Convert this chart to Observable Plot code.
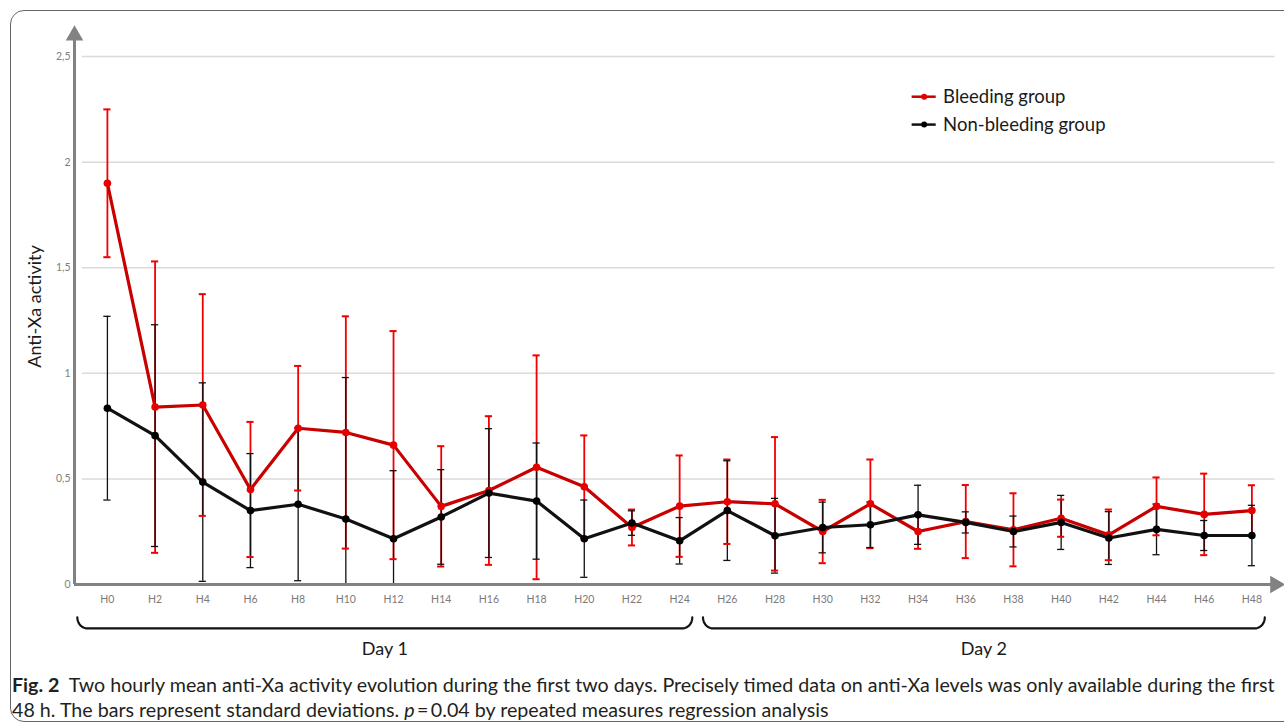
<!DOCTYPE html>
<html>
<head>
<meta charset="utf-8">
<script src="https://cdn.jsdelivr.net/npm/d3@7"></script>
<script src="https://cdn.jsdelivr.net/npm/@observablehq/plot@0.6"></script>
<style>
  html, body { margin: 0; padding: 0; background: #fff; overflow: hidden; width: 1284px; height: 726px; }
  #frame { position: absolute; left: 10px; top: 10px; width: 1300px; height: 712px; border: 1.5px solid #666; border-radius: 14px; box-sizing: border-box; }
  #chart { position: absolute; left: 0; top: 0; }
  .cap { position: absolute; left: 12px; white-space: nowrap; font-family: Lato, "Open Sans", sans-serif; font-size: 17px; line-height: 1; color: #231f20; }
  #cap1 { top: 675px; }
  #cap2 { top: 700px; }
  .cap b { font-weight: 700; }
</style>
</head>
<body>
<div id="frame"></div>
<div id="chart"></div>
<div class="cap" id="cap1"></div>
<div class="cap" id="cap2"></div>
<script>
// ---- data ----
const hours = [0,2,4,6,8,10,12,14,16,18,20,22,24,26,28,30,32,34,36,38,40,42,44,46,48];
const hourLabels = ["H0","H2","H4","H6","H8","H10","H12","H14","H16","H18","H20","H22","H24","H26","H28","H30","H32","H34","H36","H38","H40","H42","H44","H46","H48"];
const bleedingMean = [1.90,0.84,0.85,0.45,0.74,0.72,0.66,0.37,0.445,0.555,0.463,0.27,0.371,0.392,0.382,0.251,0.382,0.251,0.298,0.259,0.314,0.235,0.37,0.332,0.35];
const bleedingSD = [0.35,0.69,0.525,0.32,0.295,0.55,0.54,0.285,0.352,0.53,0.243,0.085,0.24,0.2,0.316,0.15,0.21,0.082,0.173,0.173,0.088,0.12,0.137,0.193,0.12];
const nonBleedingMean = [0.835,0.705,0.485,0.35,0.38,0.31,0.217,0.32,0.433,0.395,0.217,0.291,0.207,0.35,0.231,0.27,0.283,0.33,0.294,0.251,0.294,0.22,0.261,0.232,0.232];
const nonBleedingSD = [0.435,0.525,0.47,0.27,0.362,0.67,0.322,0.224,0.305,0.275,0.183,0.058,0.11,0.236,0.177,0.12,0.108,0.14,0.05,0.073,0.128,0.125,0.12,0.071,0.143];
const yTicks = [0, 0.5, 1, 1.5, 2, 2.5];
const yTickLabels = ["0", "0,5", "1", "1,5", "2", "2,5"];
const seriesNames = ["Bleeding group", "Non-bleeding group"];
const dayLabels = ["Day 1", "Day 2"];
const dayStart = [-1.26, 24.98];
const dayEnd = [24.53, 48.54];
const yTitle = "Anti-Xa activity";
const captionBold = "Fig. 2";
const captionLine1 = "Two hourly mean anti-Xa activity evolution during the first two days. Precisely timed data on anti-Xa levels was only available during the first";
const captionLine2a = "48 h. The bars represent standard deviations. ";
const captionLine2b = "p";
const captionLine2c = "\u2009=\u20090.04 by repeated measures regression analysis";

// ---- build table ----
const lineColors = ["#c80000", "#111111"];
const barColors = ["#f20000", "#111111"];
const dotColors = ["#e80000", "#000000"];
const rows = [];
hours.forEach((h, i) => {
  rows.push({hour: h, mean: bleedingMean[i], sd: bleedingSD[i], g: 0});
  rows.push({hour: h, mean: nonBleedingMean[i], sd: nonBleedingSD[i], g: 1});
});
const lo = d => Math.max(0, d.mean - d.sd);
const hi = d => d.mean + d.sd;

// braces
const braceTop = -0.156, braceBottom = -0.208, rx = 0.42;
const brace = [];
dayLabels.forEach((lab, k) => {
  const a = dayStart[k], b = dayEnd[k];
  for (let t = 0; t <= 12; t++) {
    const th = t / 12 * Math.PI / 2;
    brace.push({k, x: a + rx * (1 - Math.cos(th)), y: braceTop - (braceTop - braceBottom) * Math.sin(th)});
  }
  for (let t = 12; t >= 0; t--) {
    const th = t / 12 * Math.PI / 2;
    brace.push({k, x: b - rx * (1 - Math.cos(th)), y: braceTop - (braceTop - braceBottom) * Math.sin(th)});
  }
});
const days = dayLabels.map((lab, k) => ({lab, x: (dayStart[k] + dayEnd[k]) / 2}));

const legend = seriesNames.map((name, g) => ({name, g, y: [2.31, 2.178][g]}));

const font = "Lato, 'Open Sans', sans-serif";
const plot = Plot.plot({
  width: 1284,
  height: 660,
  marginLeft: 74,
  marginRight: 4,
  marginTop: 28,
  marginBottom: 76,
  style: {fontFamily: font, background: "transparent", overflow: "visible"},
  x: {type: "linear", domain: [-1.38, 49.2]},
  y: {type: "linear", domain: [0, 2.633]},
  marks: [
    // grid
    Plot.ruleY(yTicks.filter(d => d > 0), {x1: -1.05, x2: 48.97, stroke: "#dadada", strokeWidth: 1.5}),
    // axes
    Plot.axisY({ticks: yTicks, tickFormat: d => yTickLabels[yTicks.indexOf(d)], tickSize: 0, tickPadding: 4, fontSize: 10.5, fill: "#808080", label: null}),
    Plot.axisX({ticks: hours, tickFormat: d => hourLabels[hours.indexOf(d)], tickSize: 0, tickPadding: 11, fontSize: 10.5, fill: "#7a7a7a", label: null}),
    Plot.text([yTitle], {frameAnchor: "left", textAnchor: "middle", dx: -39, rotate: -90, fontSize: 18, fill: "#1a1a1a"}),
    // error bars
    ...[0, 1].map(g => Plot.ruleX(rows.filter(d => d.g === g), {x: "hour", y1: lo, y2: hi, stroke: barColors[g], strokeWidth: g ? 1.3 : 1.8})),
    ...[0, 1].map(g => Plot.ruleY(rows.filter(d => d.g === g && d.mean - d.sd > 0), {y: lo, x1: d => d.hour - 0.15, x2: d => d.hour + 0.15, stroke: barColors[g], strokeWidth: g ? 1.3 : 2})),
    ...[0, 1].map(g => Plot.ruleY(rows.filter(d => d.g === g), {y: hi, x1: d => d.hour - 0.15, x2: d => d.hour + 0.15, stroke: barColors[g], strokeWidth: g ? 1.3 : 2})),
    // lines
    ...[0, 1].map(g => Plot.line(rows.filter(d => d.g === g), {x: "hour", y: "mean", stroke: lineColors[g], strokeWidth: 3.2})),
    ...[0, 1].map(g => Plot.dot(rows.filter(d => d.g === g), {x: "hour", y: "mean", fill: dotColors[g], r: 3.8})),
    // axis lines with arrows
    Plot.ruleY([0], {x1: -1.38, x2: 48.95, stroke: "#828282", strokeWidth: 3}),
    Plot.ruleX([-1.38], {y1: 0, y2: 2.58, stroke: "#828282", strokeWidth: 3}),
    Plot.dot([0], {x: 48.98, y: 0, symbol: "triangle", r: 6.5, fill: "#828282", rotate: 90}),
    Plot.dot([0], {x: -1.38, y: 2.6, symbol: "triangle", r: 6.5, fill: "#828282"}),
    // legend
    Plot.ruleY(legend, {y: "y", x1: 33.75, x2: 34.76, stroke: d => lineColors[d.g], strokeWidth: 2.5}),
    Plot.dot(legend, {y: "y", x: 34.255, fill: d => dotColors[d.g], r: 3}),
    Plot.text(legend, {y: "y", x: 35.05, text: "name", textAnchor: "start", fontSize: 18.5, fill: "#1a1a1a"}),
    // braces & day labels
    Plot.line(brace, {x: "x", y: "y", z: "k", stroke: "#111", strokeWidth: 2.2, curve: "linear"}),
    Plot.text(days, {x: "x", y: -0.306, text: "lab", fontSize: 18, fill: "#1a1a1a"})
  ]
});
document.getElementById("chart").appendChild(plot);

// caption
const c1 = document.getElementById("cap1");
const c2 = document.getElementById("cap2");
c1.innerHTML = "<b>" + captionBold + "</b>&nbsp;&nbsp;" + captionLine1;
c2.innerHTML = captionLine2a + "<i>" + captionLine2b + "</i>" + captionLine2c;
const target = 1263;
const w = c1.getBoundingClientRect().width;
const fs = 17 * target / w;
c1.style.fontSize = fs + "px";
c2.style.fontSize = fs + "px";
</script>
</body>
</html>
